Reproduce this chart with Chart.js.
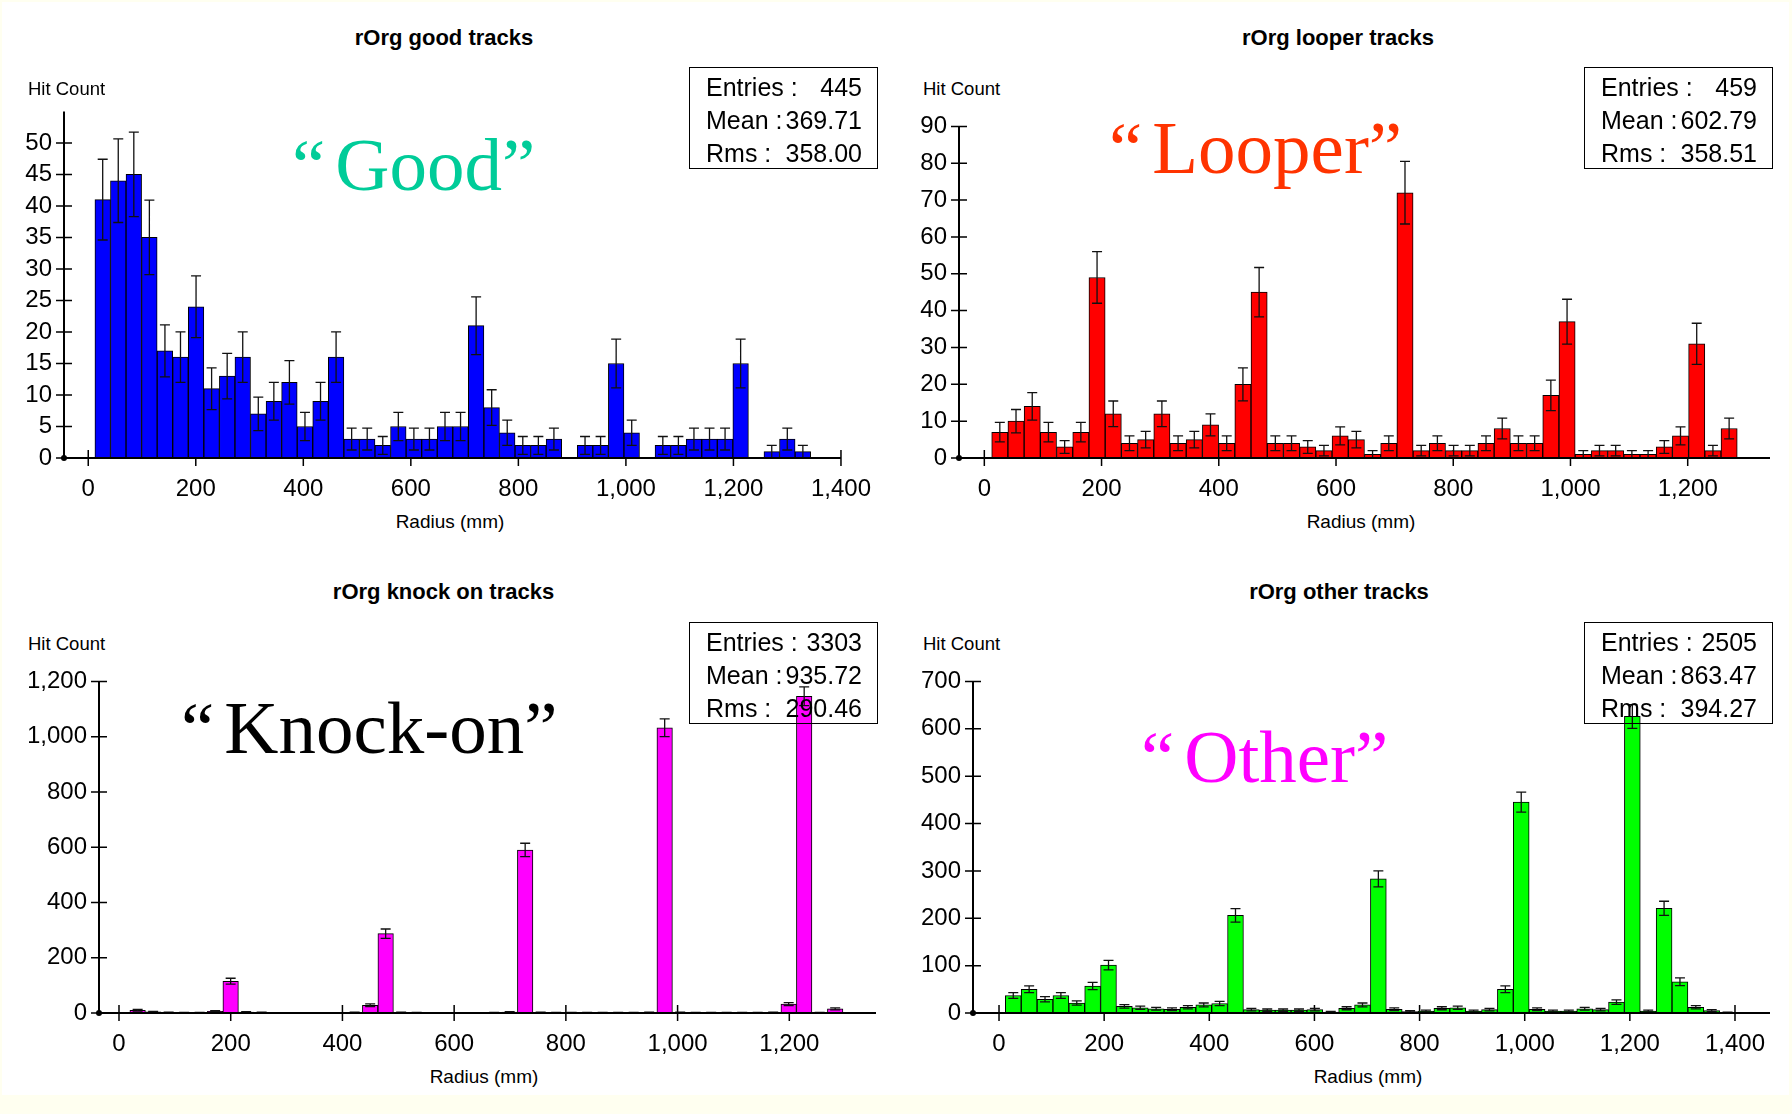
<!DOCTYPE html>
<html>
<head>
<meta charset="utf-8">
<script src="https://cdn.jsdelivr.net/npm/chart.js@4.4.1/dist/chart.umd.min.js"></script>
<style>
  html, body { margin: 0; padding: 0; }
  body { width: 1792px; height: 1114px; background: #fffff0; position: relative; overflow: hidden;
         font-family: "Liberation Sans", Arial, sans-serif; }
  #sheet { position: absolute; left: 2px; top: 2px; width: 1787px; height: 1093px; background: #fff; }
  canvas { position: absolute; }
  .txt { position: absolute; white-space: nowrap; color: #000; }
  .title { font-weight: bold; font-size: 22px; line-height: 22px; text-align: center; width: 600px; }
  .ylab { font-size: 18.5px; line-height: 18.5px; }
  .xlab { font-size: 19px; line-height: 19px; text-align: center; width: 300px; }
  .big { font-family: "Liberation Serif", "Times New Roman", serif; font-size: 75px; line-height: 75px; }
  .big .oq { margin-right: 10px; }
  .stats { position: absolute; box-sizing: border-box; border: 1.5px solid #000; padding: 3px 15px 0 16px;
           font-size: 25px; line-height: 33px; color: #000; }
  .stats div { display: flex; justify-content: space-between; white-space: pre; }
</style>
</head>
<body>
<div id="sheet"></div>
<script>
// hit counts per bin, 46 bins in every histogram
const goodCounts = [41, 44, 45, 35, 17, 16, 24, 11, 13, 16, 7, 9, 12, 5, 9, 16, 3, 3, 2, 5, 3, 3, 5,
                    5, 21, 8, 4, 2, 2, 3, 0, 2, 2, 15, 4, 0, 2, 2, 3, 3, 3, 15, 0, 1, 3, 1];
const looperCounts = [7, 10, 14, 7, 3, 7, 49, 12, 4, 5, 12, 4, 5, 9, 4, 20, 45, 4, 4, 3, 2, 6, 5,
                      1, 4, 72, 2, 4, 2, 2, 4, 8, 4, 4, 17, 37, 1, 2, 2, 1, 1, 3, 6, 31, 2, 8];
const knockCounts = [10, 4, 2, 1, 1, 6, 115, 3, 2, 0, 0, 0, 0, 0, 2, 28, 287, 2, 1, 0, 0, 0, 0,
                     1, 3, 590, 2, 1, 1, 1, 1, 1, 1, 2, 1032, 2, 1, 1, 1, 1, 1, 2, 32, 1146, 1, 15];
const otherCounts = [37, 50, 29, 37, 21, 57, 101, 14, 11, 9, 8, 12, 17, 20, 206, 7, 6, 6, 6, 7, 2, 10, 17,
                     283, 8, 3, 4, 10, 11, 4, 7, 50, 445, 8, 4, 4, 9, 7, 23, 626, 4, 221, 66, 12, 5, 1];

// histogram lower / upper edge in mm
const goodRange = [12.4, 1343.6];
const looperRange = [12.6, 1284.5];
const knockRange = [19.5, 1296.0];
const otherRange = [12.0, 1401.0];

// tick labels
const goodXTicks = [0, 200, 400, 600, 800, 1000, 1200, 1400];
const looperXTicks = [0, 200, 400, 600, 800, 1000, 1200];
const knockXTicks = [0, 200, 400, 600, 800, 1000, 1200];
const otherXTicks = [0, 200, 400, 600, 800, 1000, 1200, 1400];
const goodYTicks = [0, 5, 10, 15, 20, 25, 30, 35, 40, 45, 50];
const looperYTicks = [0, 10, 20, 30, 40, 50, 60, 70, 80, 90];
const knockYTicks = [0, 200, 400, 600, 800, 1000, 1200];
const otherYTicks = [0, 100, 200, 300, 400, 500, 600, 700];

// stats boxes
const statLabels = ['Entries :', 'Mean :', 'Rms :'];
const goodStats = ['445', '369.71', '358.00'];
const looperStats = ['459', '602.79', '358.51'];
const knockStats = ['3303', '935.72', '290.46'];
const otherStats = ['2505', '863.47', '394.27'];

const panels = [
  { counts: goodCounts, range: goodRange, xTicks: goodXTicks, yTicks: goodYTicks, stats: goodStats,
    color: '#0000ff', xMin: -45.1, xMax: 1400, yMax: 55,
    plot: { l: 64, t: 105, r: 843, b: 458 },
    title: 'rOrg good tracks', titleX: 444, titleTop: 27, hitX: 28, hitTop: 80, radX: 450, radTop: 512,
    word: 'Good', wordColor: '#00cc99', wordX: 292, wordTop: 127,
    box: { l: 689, t: 67, w: 189, h: 102 } },
  { counts: looperCounts, range: looperRange, xTicks: looperXTicks, yTicks: looperYTicks, stats: looperStats,
    color: '#ff0000', xMin: -43.2, xMax: 1340.4, yMax: 90,
    plot: { l: 959, t: 120, r: 1770, b: 458 },
    title: 'rOrg looper tracks', titleX: 1338, titleTop: 27, hitX: 923, hitTop: 80, radX: 1361, radTop: 512,
    word: 'Looper', wordColor: '#ff3300', wordX: 1109, wordTop: 110,
    box: { l: 1584, t: 67, w: 189, h: 102 } },
  { counts: knockCounts, range: knockRange, xTicks: knockXTicks, yTicks: knockYTicks, stats: knockStats,
    color: '#ff00ff', xMin: -35.8, xMax: 1355.2, yMax: 1200,
    plot: { l: 99, t: 675, r: 876, b: 1013 },
    title: 'rOrg knock on tracks', titleX: 443.5, titleTop: 581, hitX: 28, hitTop: 635, radX: 484, radTop: 1067,
    word: 'Knock-on', wordColor: '#000000', wordX: 181, wordTop: 690,
    box: { l: 689, t: 622, w: 189, h: 102 } },
  { counts: otherCounts, range: otherRange, xTicks: otherXTicks, yTicks: otherYTicks, stats: otherStats,
    color: '#00ff00', xMin: -49.5, xMax: 1466.6, yMax: 700,
    plot: { l: 973, t: 675, r: 1770, b: 1013 },
    title: 'rOrg other tracks', titleX: 1339, titleTop: 581, hitX: 923, hitTop: 635, radX: 1368, radTop: 1067,
    word: 'Other', wordColor: '#ff00ff', wordX: 1141, wordTop: 719,
    box: { l: 1584, t: 622, w: 189, h: 102 } }
];

Chart.defaults.font.family = '"Liberation Sans", Arial, sans-serif';
Chart.defaults.color = '#000';

// axis lines, crossing ticks and sqrt(N) error bars
const histAxes = {
  id: 'histAxes',
  beforeDatasetsDraw(chart) {
    const { ctx, chartArea: a, scales: { x, y } } = chart;
    ctx.save();
    ctx.strokeStyle = '#000';
    ctx.lineWidth = 1.5;
    ctx.beginPath();
    for (const t of x.ticks) {
      const px = x.getPixelForValue(t.value);
      ctx.moveTo(px, a.bottom - 8); ctx.lineTo(px, a.bottom + 8);
    }
    for (const t of y.ticks) {
      const py = y.getPixelForValue(t.value);
      ctx.moveTo(a.left - 8, py); ctx.lineTo(a.left + 8, py);
    }
    ctx.stroke();
    ctx.restore();
  },
  afterDatasetsDraw(chart) {
    const { ctx, chartArea: a, scales: { y } } = chart;
    const meta = chart.getDatasetMeta(0);
    const data = chart.data.datasets[0].data;
    ctx.save();
    ctx.strokeStyle = '#111';
    ctx.lineWidth = 1.3;
    ctx.beginPath();
    meta.data.forEach((bar, i) => {
      const v = data[i].y;
      if (v <= 0) return;
      const e = Math.sqrt(v);
      const y0 = y.getPixelForValue(v - e), y1 = y.getPixelForValue(v + e);
      ctx.moveTo(bar.x, y0); ctx.lineTo(bar.x, y1);
      ctx.moveTo(bar.x - 5, y0); ctx.lineTo(bar.x + 5, y0);
      ctx.moveTo(bar.x - 5, y1); ctx.lineTo(bar.x + 5, y1);
    });
    ctx.stroke();
    ctx.strokeStyle = '#000';
    ctx.lineWidth = 2;
    ctx.beginPath();
    ctx.moveTo(a.left, a.bottom); ctx.lineTo(a.right, a.bottom);
    ctx.moveTo(a.left, a.bottom); ctx.lineTo(a.left, a.top);
    ctx.stroke();
    ctx.fillStyle = '#000';
    ctx.beginPath();
    ctx.arc(a.left, a.bottom, 3, 0, Math.PI * 2);
    ctx.fill();
    ctx.restore();
  }
};

function addText(cls, text, left, top, color) {
  const d = document.createElement('div');
  d.className = 'txt ' + cls;
  d.textContent = text;
  d.style.left = left + 'px';
  d.style.top = top + 'px';
  if (color) d.style.color = color;
  document.body.appendChild(d);
  return d;
}

function makePanel(p) {
  const n = p.counts.length;
  const w = (p.range[1] - p.range[0]) / n;
  const pts = p.counts.map((c, i) => ({ x: p.range[0] + (i + 0.5) * w, y: c }));

  const padL = 70, padT = 20, padR = 45, padB = 50;
  const cv = document.createElement('canvas');
  cv.width = (p.plot.r - p.plot.l) + padL + padR;
  cv.height = (p.plot.b - p.plot.t) + padT + padB;
  cv.style.left = (p.plot.l - padL) + 'px';
  cv.style.top = (p.plot.t - padT) + 'px';
  document.body.appendChild(cv);

  const fmt = v => Number(v).toLocaleString('en-US');

  new Chart(cv, {
    type: 'bar',
    data: {
      datasets: [{
        data: pts,
        backgroundColor: p.color,
        borderColor: '#000',
        borderWidth: 1,
        barPercentage: 1,
        categoryPercentage: 1
      }]
    },
    options: {
      responsive: false,
      animation: false,
      devicePixelRatio: 1,
      layout: { padding: { left: 0, top: padT, right: padR, bottom: 0 } },
      plugins: { legend: { display: false }, tooltip: { enabled: false } },
      scales: {
        x: {
          type: 'linear', min: p.xMin, max: p.xMax, offset: false,
          grid: { display: false, drawTicks: false }, border: { display: false },
          afterBuildTicks: s => { s.ticks = p.xTicks.map(v => ({ value: v })); },
          afterFit: s => { s.height = padB; },
          ticks: { padding: 17, font: { size: 24 }, maxRotation: 0, autoSkip: false, callback: fmt }
        },
        y: {
          type: 'linear', min: 0, max: p.yMax,
          grid: { display: false, drawTicks: false }, border: { display: false },
          afterBuildTicks: s => { s.ticks = p.yTicks.map(v => ({ value: v })); },
          afterFit: s => { s.width = padL; },
          ticks: { padding: 12, font: { size: 24 }, autoSkip: false, callback: fmt }
        }
      }
    },
    plugins: [histAxes]
  });

  addText('title', p.title, p.titleX - 300, p.titleTop);
  addText('ylab', 'Hit Count', p.hitX, p.hitTop);
  addText('xlab', 'Radius (mm)', p.radX - 150, p.radTop);

  const big = addText('big', '', p.wordX, p.wordTop, p.wordColor);
  const oq = document.createElement('span');
  oq.className = 'oq';
  oq.textContent = '\u201C';
  big.appendChild(oq);
  big.appendChild(document.createTextNode(p.word + '\u201D'));

  const box = document.createElement('div');
  box.className = 'stats';
  box.style.left = p.box.l + 'px';
  box.style.top = p.box.t + 'px';
  box.style.width = p.box.w + 'px';
  box.style.height = p.box.h + 'px';
  statLabels.forEach((lab, i) => {
    const row = document.createElement('div');
    const a = document.createElement('span');
    a.textContent = lab;
    const b = document.createElement('span');
    b.textContent = p.stats[i];
    row.appendChild(a);
    row.appendChild(b);
    box.appendChild(row);
  });
  document.body.appendChild(box);
}

panels.forEach(makePanel);
</script>
</body>
</html>
